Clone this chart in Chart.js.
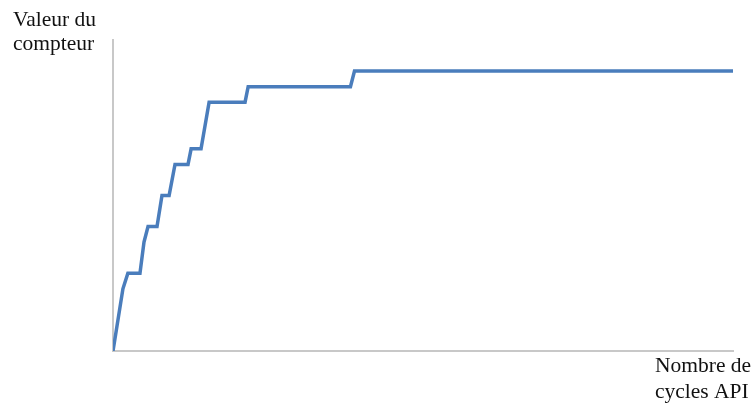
<!DOCTYPE html>
<html>
<head>
<meta charset="utf-8">
<style>
  html, body { margin: 0; padding: 0; background: #ffffff; }
  #wrap { position: relative; width: 751px; height: 406px; }
</style>
<script src="https://cdn.jsdelivr.net/npm/chart.js@4/dist/chart.umd.min.js"></script>
</head>
<body>
<div id="wrap"><canvas id="chart" width="751" height="406"></canvas></div>
<script>
// Counter value against number of PLC cycles (staircase growth that levels off)
const cycles  = [0, 3.2, 4.8, 8.7, 10, 11.3, 14.2, 15.8, 18.1, 20, 24.2, 25.2, 28.4, 31, 42.6, 43.6, 76.6, 77.9, 200];
const counter = [0, 20,  25,  25,  35, 40,   40,   50,   50,   60, 60,   65,   65,   80, 80,   85,   85,   90,   90];
const yAxisLabel = ['Valeur du', 'compteur'];
const xAxisLabel = ['Nombre de', 'cycles API'];

const axisTitles = {
  id: 'axisTitles',
  afterDraw(chart) {
    const ctx = chart.ctx;
    ctx.save();
    ctx.fillStyle = '#111111';
    ctx.font = '21.5px "Liberation Serif", "Times New Roman", serif';
    ctx.textAlign = 'left';
    ctx.textBaseline = 'alphabetic';
    ctx.fillText(yAxisLabel[0], 13, 26);
    ctx.fillText(yAxisLabel[1], 13, 50);
    ctx.fillText(xAxisLabel[0], 655, 372);
    ctx.fillText(xAxisLabel[1], 655, 398);
    ctx.restore();
  }
};

new Chart(document.getElementById('chart'), {
  type: 'line',
  data: {
    datasets: [{
      data: cycles.map((c, i) => ({ x: c, y: counter[i] })),
      borderColor: '#4a7dbc',
      borderWidth: 3.5,
      pointRadius: 0,
      tension: 0,
      fill: false
    }]
  },
  options: {
    responsive: false,
    animation: false,
    layout: { padding: { left: 113, right: 18, top: 40, bottom: 55 } },
    plugins: { legend: { display: false }, tooltip: { enabled: false } },
    scales: {
      x: {
        type: 'linear', min: 0, max: 200,
        grid: { display: false, drawTicks: false },
        border: { display: true, color: '#c8c8c8', width: 2 },
        ticks: { display: false }
      },
      y: {
        type: 'linear', min: 0, max: 100,
        grid: { display: false, drawTicks: false },
        border: { display: true, color: '#c8c8c8', width: 2 },
        ticks: { display: false }
      }
    }
  },
  plugins: [axisTitles]
});
</script>
</body>
</html>
